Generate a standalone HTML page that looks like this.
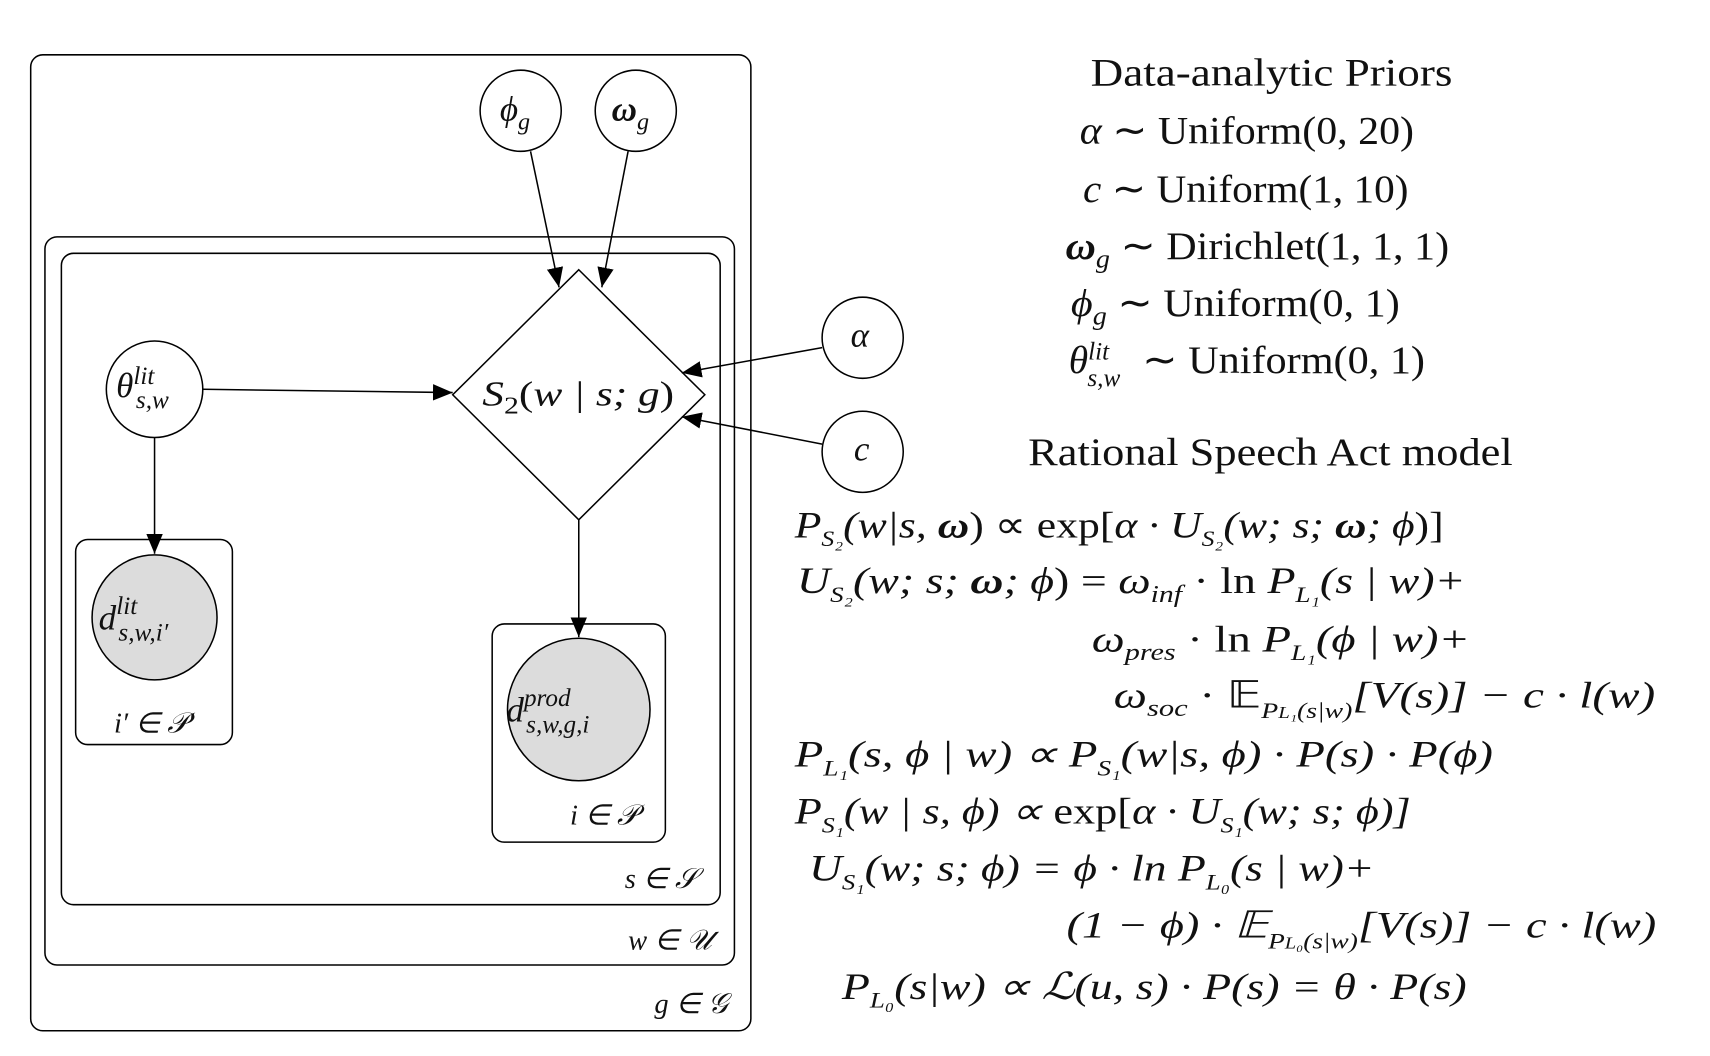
<!DOCTYPE html>
<html><head><meta charset="utf-8"><style>
html,body{margin:0;padding:0;background:#fff;}
svg{display:block;}
text{font-family:"Liberation Serif",serif;fill:#111;}
.m{font-style:italic;}
.r{font-style:normal;}
</style></head><body>
<svg width="1710" height="1056" viewBox="0 0 1560 963" preserveAspectRatio="none">
<defs>
<marker id="a" viewBox="0 0 12 10" refX="12" refY="5" markerWidth="18" markerHeight="15" orient="auto" markerUnits="userSpaceOnUse"><path d="M0,0 L12,5 L0,10 z" fill="#000"/></marker></defs>
<g fill="none" stroke="#000" stroke-width="1.4">
<rect x="28" y="50" width="657" height="890" rx="11"/>
<rect x="41" y="216" width="629" height="664" rx="11"/>
<rect x="56" y="231" width="601" height="594" rx="11"/>
<rect x="69" y="492" width="143" height="187" rx="11"/>
<rect x="449" y="569" width="158" height="199" rx="11"/>
<circle cx="475" cy="101" r="37" fill="#fff"/>
<circle cx="580" cy="101" r="37" fill="#fff"/>
<circle cx="787" cy="308" r="37" fill="#fff"/>
<circle cx="787" cy="412" r="37" fill="#fff"/>
<circle cx="141" cy="355" r="44" fill="#fff"/>
<circle cx="141" cy="563" r="57" fill="#dcdcdc"/>
<circle cx="528" cy="647" r="65" fill="#dcdcdc"/>
<polygon points="528,246 643,360 528,474 413,360" fill="#fff"/>
<line x1="484" y1="138" x2="510" y2="262" marker-end="url(#a)"/>
<line x1="573" y1="138" x2="549" y2="262" marker-end="url(#a)"/>
<line x1="750" y1="317" x2="622" y2="340" marker-end="url(#a)"/>
<line x1="750" y1="405" x2="622" y2="380" marker-end="url(#a)"/>
<line x1="185" y1="355" x2="413" y2="358" marker-end="url(#a)"/>
<line x1="141" y1="399" x2="141" y2="505" marker-end="url(#a)"/>
<line x1="528" y1="474" x2="528" y2="581" marker-end="url(#a)"/>
</g>
<g font-size="32">
<text class="m" x="456" y="110">ϕ<tspan font-size="22" dy="8">g</tspan></text>
<text x="558" y="110" font-weight="bold" font-style="italic">ω<tspan font-size="22" dy="8" font-weight="normal">g</tspan></text>
<text class="m" x="776" y="316">α</text>
<text class="m" x="779" y="420">c</text>
<text class="m" x="106" y="362">θ<tspan font-size="23" dy="-12">lit</tspan><tspan font-size="23" x="124" dy="22">s,w</tspan></text>
<text class="m" x="90" y="574">d<tspan font-size="23" dy="-14">lit</tspan><tspan font-size="23" x="108" dy="24">s,w,i′</tspan></text>
<text class="m" x="462" y="658">d<tspan font-size="23" dy="-14">prod</tspan><tspan font-size="23" x="480" dy="24">s,w,g,i</tspan></text>
<text class="m" x="440" y="370" textLength="175" lengthAdjust="spacingAndGlyphs">S<tspan font-size="22" dy="7" class="r">2</tspan><tspan dy="-7" class="r">(</tspan>w | s; g<tspan class="r">)</tspan></text>
<text class="m" font-size="26" x="104" y="668">i′ ∈ 𝒫′</text>
<text class="m" font-size="26" x="520" y="752">i ∈ 𝒫</text>
<text class="m" font-size="26" x="570" y="810">s ∈ 𝒮</text>
<text class="m" font-size="26" x="573" y="866">w ∈ 𝒰</text>
<text class="m" font-size="26" x="597" y="924">g ∈ 𝒢</text>
</g>
<g font-size="36">
<text x="995" y="78" textLength="330" lengthAdjust="spacingAndGlyphs">Data-analytic Priors</text>
<text x="985" y="131" textLength="305" lengthAdjust="spacingAndGlyphs"><tspan class="m">α</tspan> ∼ Uniform(0, 20)</text>
<text x="988" y="184" textLength="297" lengthAdjust="spacingAndGlyphs"><tspan class="m">c</tspan> ∼ Uniform(1, 10)</text>
<text x="972" y="236" textLength="350" lengthAdjust="spacingAndGlyphs"><tspan font-weight="bold" font-style="italic">ω</tspan><tspan class="m" font-size="24" dy="8">g</tspan><tspan dy="-8"> ∼ Dirichlet(1, 1, 1)</tspan></text>
<text x="977" y="288" textLength="300" lengthAdjust="spacingAndGlyphs"><tspan class="m">ϕ</tspan><tspan class="m" font-size="24" dy="8">g</tspan><tspan dy="-8"> ∼ Uniform(0, 1)</tspan></text>
<text x="975" y="340"><tspan class="m">θ</tspan><tspan class="m" font-size="23" dy="-12">lit</tspan><tspan class="m" font-size="23" x="992" dy="24">s,w</tspan></text>
<text x="1042" y="340" textLength="258" lengthAdjust="spacingAndGlyphs">∼ Uniform(0, 1)</text>
<text x="938" y="424" textLength="442" lengthAdjust="spacingAndGlyphs">Rational Speech Act model</text>
</g>
<g font-size="34" class="m">
<text x="725" y="490" textLength="592" lengthAdjust="spacingAndGlyphs">P<tspan font-size="20" dy="8">S₂</tspan><tspan dy="-8">(w|s, </tspan><tspan font-weight="bold">ω</tspan><tspan class="r">) ∝ exp[</tspan>α · U<tspan font-size="20" dy="8">S₂</tspan><tspan dy="-8">(w; s; </tspan><tspan font-weight="bold">ω</tspan>; ϕ<tspan class="r">)]</tspan></text>
<text x="727" y="541" textLength="610" lengthAdjust="spacingAndGlyphs">U<tspan font-size="20" dy="8">S₂</tspan><tspan dy="-8">(w; s; </tspan><tspan font-weight="bold">ω</tspan>; ϕ<tspan class="r">) = </tspan>ω<tspan font-size="22" dy="8">inf</tspan><tspan dy="-8" class="r"> · ln </tspan>P<tspan font-size="20" dy="8">L₁</tspan><tspan dy="-8">(s | w)+</tspan></text>
<text x="996" y="594" textLength="345" lengthAdjust="spacingAndGlyphs">ω<tspan font-size="22" dy="8">pres</tspan><tspan dy="-8" class="r"> · ln </tspan>P<tspan font-size="20" dy="8">L₁</tspan><tspan dy="-8">(ϕ | w)+</tspan></text>
<text x="1016" y="645" textLength="494" lengthAdjust="spacingAndGlyphs">ω<tspan font-size="22" dy="8">soc</tspan><tspan dy="-8" class="r"> · 𝔼</tspan><tspan font-size="20" dy="10">P<tspan font-size="15">L₁</tspan>(s|w)</tspan><tspan dy="-10">[V(s)] − c · l(w)</tspan></text>
<text x="725" y="699" textLength="637" lengthAdjust="spacingAndGlyphs">P<tspan font-size="20" dy="8">L₁</tspan><tspan dy="-8">(s, ϕ | w) ∝ P</tspan><tspan font-size="20" dy="8">S₁</tspan><tspan dy="-8">(w|s, ϕ) · P(s) · P(ϕ)</tspan></text>
<text x="725" y="751" textLength="562" lengthAdjust="spacingAndGlyphs">P<tspan font-size="20" dy="8">S₁</tspan><tspan dy="-8">(w | s, ϕ) ∝ </tspan><tspan class="r">exp[</tspan>α · U<tspan font-size="20" dy="8">S₁</tspan><tspan dy="-8">(w; s; ϕ)]</tspan></text>
<text x="738" y="803" textLength="516" lengthAdjust="spacingAndGlyphs">U<tspan font-size="20" dy="8">S₁</tspan><tspan dy="-8">(w; s; ϕ) = ϕ · ln P</tspan><tspan font-size="20" dy="8">L₀</tspan><tspan dy="-8">(s | w)+</tspan></text>
<text x="973" y="855" textLength="538" lengthAdjust="spacingAndGlyphs">(1 − ϕ) · 𝔼<tspan font-size="20" dy="10">P<tspan font-size="15">L₀</tspan>(s|w)</tspan><tspan dy="-10">[V(s)] − c · l(w)</tspan></text>
<text x="768" y="911" textLength="570" lengthAdjust="spacingAndGlyphs">P<tspan font-size="20" dy="8">L₀</tspan><tspan dy="-8">(s|w) ∝ ℒ(u, s) · P(s) = θ · P(s)</tspan></text>
</g>
</svg>
</body></html>
